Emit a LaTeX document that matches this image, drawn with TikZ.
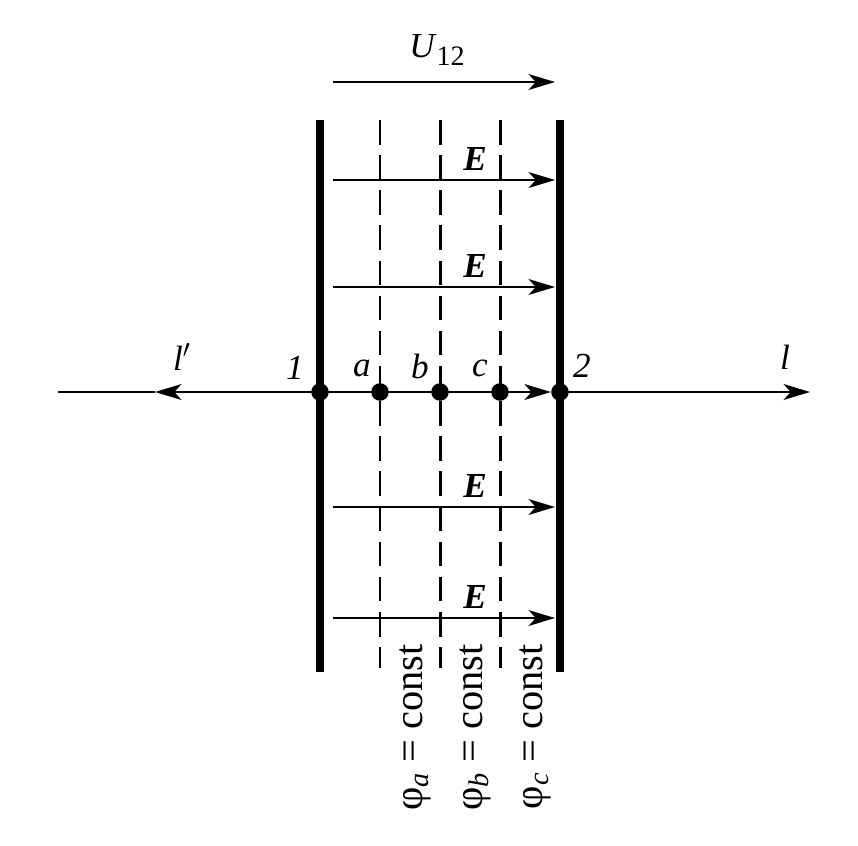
\documentclass[tikz,border=0pt]{standalone}
\usepackage{fontspec}
\setmainfont{Liberation Serif}
\usetikzlibrary{arrows.meta}
\begin{document}
\begin{tikzpicture}
    [x=0.02cm,y=-0.02cm,
     plate/.style={line width=4.6pt},
     equi/.style={line width=1.7pt,dash pattern=on 14pt off 6pt},
     fld/.style={line width=1.4pt,-{Stealth[length=15pt,width=9pt,inset=4pt]}},
     dot/.style={circle,fill=black,inner sep=0pt,minimum size=10pt},
     lbl/.style={font=\itshape\fontsize{20}{20}\selectfont},
     phil/.style={rotate=90,anchor=east,font=\fontsize{23}{23}\selectfont}]
    \useasboundingbox (0,0) rectangle (858,845);

    % plates and equipotentials
    \coordinate (p1t) at (320,120); \coordinate (p1b) at (320,672);
    \coordinate (p2t) at (560,120); \coordinate (p2b) at (560,672);
    \draw[plate] (p1t) -- (p1b);
    \draw[plate] (p2t) -- (p2b);
    \foreach \n/\x in {a/380,b/440,c/500} {
        \coordinate (\n t) at (\x,120);
        \coordinate (\n b) at (\x,668);
        \draw[equi] (\n t) -- (\n b);
    }

    % axis
    \node[dot] (n1) at (320,392) {};
    \node[dot] (na) at (380,392) {};
    \node[dot] (nb) at (440,392) {};
    \node[dot] (nc) at (500,392) {};
    \node[dot] (n2) at (560,392) {};
    \coordinate (left) at (58,392);
    \coordinate (lmid) at (155,392);
    \coordinate (right) at (810,392);
    \draw[fld] (n1.center) -- (lmid);
    \draw[line width=1.4pt] (lmid) -- (left);
    \draw[fld] (n1.center) -- (n2.west);
    \draw[fld] (n2.center) -- (right);

    \node[lbl] at (182,357) {l$'$};
    \node[lbl] at (295,368) {1};
    \node[lbl] at (362,368) {a};
    \node[lbl] at (420,366) {b};
    \node[lbl] at (480,368) {c};
    \node[lbl] at (582,366) {2};
    \node[lbl] at (785,357) {l};

    % field lines
    \foreach \y in {180,287,507,618} {
        \coordinate (es\y) at (333,\y);
        \coordinate (ee\y) at (555,\y);
        \draw[fld] (es\y) -- (ee\y);
        \node[font=\bfseries\itshape\fontsize{20}{20}\selectfont] at (475,\y-21) {E};
    }

    % voltage
    \coordinate (us) at (333,82);
    \coordinate (ue) at (555,82);
    \draw[fld] (us) -- (ue);
    \node[lbl] at (437,50) {U\textup{\fontsize{16}{16}\selectfont\raisebox{-5pt}{12}}};

    % equipotential labels
    \node[phil] at (415,638) {φ\textsubscript{\textit{a}} = const};
    \node[phil] at (475,638) {φ\textsubscript{\textit{b}} = const};
    \node[phil] at (535,638) {φ\textsubscript{\textit{c}} = const};
\end{tikzpicture}
\end{document}
